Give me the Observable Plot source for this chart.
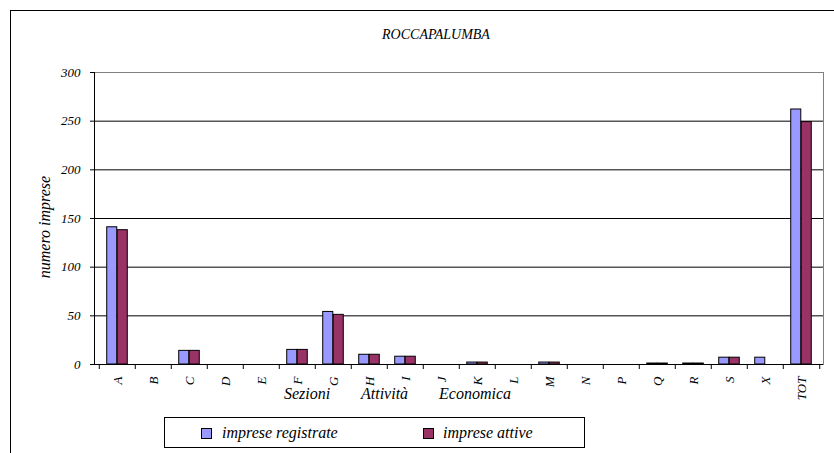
<!DOCTYPE html>
<html>
<head>
<meta charset="utf-8">
<script src="https://cdn.jsdelivr.net/npm/d3@7"></script>
<script src="https://cdn.jsdelivr.net/npm/@observablehq/plot@0.6"></script>
<style>
  body { margin: 0; background: #fff; }
  #wrap { position: relative; width: 834px; height: 453px; overflow: hidden; background: #fff;
          font-family: 'Liberation Serif', serif; font-style: italic; color: #000; }
  #border { position: absolute; left: 10px; top: 10px; width: 840px; height: 470px; border: 1px solid #000; }
  #chart { position: absolute; left: 0; top: 0; }
  #title { position: absolute; left: 0; width: 872px; top: 28px; text-align: center; font-size: 14px; line-height: 14px; }
  #ytitle { position: absolute; left: 45px; top: 227px; width: 200px; margin-left: -100px; margin-top: -8px;
            text-align: center; font-size: 16px; line-height: 16px; transform: rotate(-90deg); white-space: nowrap; }
  .xw { position: absolute; top: 386px; font-size: 16px; line-height: 16px; white-space: nowrap; }
  #legend { position: absolute; left: 164px; top: 417px; width: 419px; height: 29px; border: 1px solid #000; box-sizing: content-box; }
  .sw { position: absolute; top: 10px; width: 9px; height: 9px; border: 1px solid #000; }
  .lt { position: absolute; top: 7px; font-size: 16px; line-height: 16px; white-space: nowrap; }
</style>
</head>
<body>
<div id="wrap">
  <div id="border"></div>
  <div id="chart"></div>
  <div id="title"></div>
  <div id="ytitle"></div>
  <div id="xtitle"></div>
  <div id="legend"></div>
</div>
<script>
// ---- data ----
const chartTitle = "ROCCAPALUMBA";
const yTitle = "numero imprese";
const xTitleWords = ["Sezioni", "Attività", "Economica"];
const categories = ["A","B","C","D","E","F","G","H","I","J","K","L","M","N","P","Q","R","S","X","TOT"];
const registrate = [141,0,14,0,0,15,54,10,8,0,2,0,2,0,0,1,1,7,7,262];
const attive     = [138,0,14,0,0,15,51,10,8,0,2,0,2,0,0,1,1,7,0,249];
const yTicks = [0,50,100,150,200,250,300];
const seriesNames = ["imprese registrate", "imprese attive"];
const seriesColors = ["#9999FF", "#993366"];

// ---- layout ----
const W = 834, H = 410, ML = 94, MR = 11, MT = 72, MB = 46;
const step = (W - ML - MR) / categories.length;
const barW = 10.5;
const FONT = "'Liberation Serif', serif";

const rows = categories.map((c, i) => ({cat: c, reg: registrate[i], att: attive[i]}));

const chart = Plot.plot({
  width: W, height: H,
  marginLeft: ML, marginRight: MR, marginTop: MT, marginBottom: MB,
  style: {fontFamily: FONT, fontStyle: "italic", fontSize: "13px",
          background: "none", color: "#000", overflow: "visible"},
  x: {type: "band", domain: categories, padding: 0, axis: null},
  y: {domain: [0, 300], axis: null},
  marks: [
    Plot.gridY(yTicks, {stroke: "#000", strokeOpacity: 1}),
    Plot.frame({anchor: "top", stroke: "#808080"}),
    Plot.frame({anchor: "right", stroke: "#808080"}),
    Plot.barY(rows, {x: "cat", y: "reg", fill: seriesColors[0], stroke: "#000", strokeWidth: 1,
                     insetLeft: step / 2 - barW, insetRight: step / 2}),
    Plot.barY(rows, {x: "cat", y: "att", fill: seriesColors[1], stroke: "#000", strokeWidth: 1,
                     insetLeft: step / 2, insetRight: step / 2 - barW}),
    Plot.axisY(yTicks, {tickSize: 4, tickPadding: 10, label: null, stroke: "#000"}),
    Plot.frame({anchor: "left", stroke: "#000"}),
    Plot.ruleY([0], {stroke: "#000"}),
    Plot.axisX(categories, {tickSize: 5, text: null, label: null, dx: -step / 2, stroke: "#000"}),
    Plot.axisX([categories[categories.length - 1]], {tickSize: 5, text: null, label: null, dx: step / 2, stroke: "#000"}),
    Plot.axisX(categories, {tickSize: 0, tickPadding: 12, tickRotate: -90, label: null})
  ]
});
document.getElementById("chart").appendChild(chart);

document.getElementById("title").textContent = chartTitle;
document.getElementById("ytitle").textContent = yTitle;

const xWordLeft = [284, 361, 439];
const xt = document.getElementById("xtitle");
xTitleWords.forEach((w, i) => {
  const s = document.createElement("span");
  s.className = "xw"; s.style.left = xWordLeft[i] + "px"; s.textContent = w;
  xt.appendChild(s);
});

const lg = document.getElementById("legend");
const swLeft = [36, 258], txtLeft = [57, 278];
seriesNames.forEach((n, i) => {
  const sw = document.createElement("div");
  sw.className = "sw"; sw.style.left = swLeft[i] + "px"; sw.style.background = seriesColors[i];
  lg.appendChild(sw);
  const t = document.createElement("div");
  t.className = "lt"; t.style.left = txtLeft[i] + "px"; t.textContent = n;
  lg.appendChild(t);
});
</script>
</body>
</html>
